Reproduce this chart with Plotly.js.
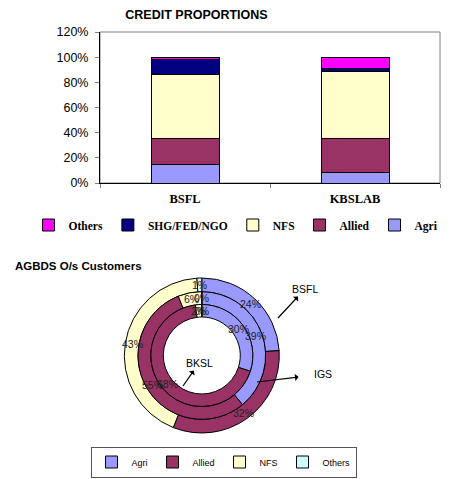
<!DOCTYPE html>
<html><head><meta charset="utf-8">
<script src="https://cdn.plot.ly/plotly-3.0.1.min.js"></script>
<style>html,body{margin:0;padding:0;background:#fff}#chart{width:458px;height:479px}</style>
</head><body><div id="chart"></div>
<script>
// ---- Bar chart data (percent of credit) ----
const barCategories = ['BSFL', 'KBSLAB'];
const barAgri = [15, 8];
const barAllied = [20, 27];
const barNFS = [51, 54];
const barSHG = [12.5, 2];
const barOthers = [1.5, 9];
const yTickVals = [0, 20, 40, 60, 80, 100, 120];
const yTickText = ['0%', '20%', '40%', '60%', '80%', '100%', '120%'];

// ---- Donut data (percent of customers) ----
const pieLabels = ['Agri', 'Allied', 'NFS', 'Others'];
const pieBSFL = [24, 32, 43, 1];   // outer ring
const pieIGS = [39, 55, 6, 0];     // middle ring
const pieBKSL = [30, 68, 2, 0];    // inner ring

const W = 458, H = 479;
const px = v => v / W, py = v => 1 - v / H;

const serif = 'Liberation Serif, Times New Roman, serif';
const sans = 'Liberation Sans, Arial, sans-serif';

function barTrace(name, vals, color) {
  return {type: 'bar', name: name, x: barCategories, y: vals, width: 0.4,
    marker: {color: color, line: {color: '#000', width: 1}}, legend: 'legend',
    hoverinfo: 'skip'};
}
const pieColors = ['#9999FF', '#993366', '#FFFFCC', '#CCFFFF'];

// donut geometry (pixel): centre and ring radii
const cx = 201.8, cy = 355.5;
const rings = [
  {name: 'BSFL', vals: pieBSFL, rOut: 77.5, rIn: 63.8},
  {name: 'IGS', vals: pieIGS, rOut: 63.8, rIn: 51},
  {name: 'BKSL', vals: pieBKSL, rOut: 51, rIn: 38.5}
];
function ringDomain(r) {
  return {x: [px(cx - r), px(cx + r)], y: [py(cy + r), py(cy - r)]};
}
function pieTrace(ring) {
  return {type: 'pie', name: ring.name, labels: pieLabels, values: ring.vals, sort: false,
    direction: 'clockwise', rotation: 0, hole: ring.rIn / ring.rOut,
    domain: ringDomain(ring.rOut),
    marker: {colors: pieColors, line: {color: '#000', width: 1}},
    textinfo: 'none',
    legend: 'legend2', showlegend: true, hoverinfo: 'skip'};
}

// percentage labels placed at the middle of each ring slice
const labelAnns = [];
rings.forEach(ring => {
  const total = ring.vals.reduce((a, b) => a + b, 0);
  let cum = 0;
  const rMid = (ring.rOut + ring.rIn) / 2;
  ring.vals.forEach(v => {
    const ang = (cum + v / 2) / total * 2 * Math.PI;
    cum += v;
    labelAnns.push({text: Math.round(v / total * 100) + '%', xref: 'paper', yref: 'paper',
      x: px(cx + rMid * Math.sin(ang)), y: py(cy - rMid * Math.cos(ang)),
      xanchor: 'center', yanchor: 'middle', showarrow: false,
      font: {family: sans, size: 10.5, color: '#222'}});
  });
});

const data = [
  barTrace('Agri', barAgri, '#9999FF'),
  barTrace('Allied', barAllied, '#993366'),
  barTrace('NFS', barNFS, '#FFFFCC'),
  barTrace('SHG/FED/NGO', barSHG, '#000080'),
  barTrace('Others', barOthers, '#FF00FF')
].concat(rings.map(pieTrace));

const layout = {
  width: W, height: H,
  margin: {l: 0, r: 0, t: 0, b: 0},
  paper_bgcolor: '#fff', plot_bgcolor: '#fff',
  barmode: 'stack',
  showlegend: true,
  title: {text: '<b>CREDIT PROPORTIONS</b>', x: px(196.5), xanchor: 'center',
    y: py(14.7), yanchor: 'middle', font: {family: sans, size: 12.5, color: '#000'}},
  xaxis: {domain: [px(100), px(440)], type: 'category', showgrid: false,
    showline: true, linecolor: '#000', linewidth: 1, ticks: 'outside',
    tickson: 'boundaries', ticklen: 4, tickcolor: '#808080',
    ticklabelstandoff: 4,
    tickfont: {family: serif, size: 12.5, color: '#000', weight: 'bold'}},
  yaxis: {domain: [py(183), py(32)], range: [0, 120], tickmode: 'array',
    tickvals: yTickVals, ticktext: yTickText, showgrid: false, zeroline: false,
    showline: true, linecolor: '#000', linewidth: 1, ticks: 'outside', ticklen: 4,
    tickcolor: '#808080', ticklabelstandoff: 4,
    tickfont: {family: sans, size: 12.5, color: '#000'}},
  shapes: [{type: 'rect', xref: 'x domain', yref: 'y domain', x0: 0, x1: 1, y0: 0, y1: 1,
    line: {color: '#808080', width: 1}, layer: 'below'}],
  legend: {orientation: 'h', traceorder: 'reversed', x: px(236), xanchor: 'center',
    y: py(225), yanchor: 'middle', bgcolor: 'rgba(0,0,0,0)',
    font: {family: serif, size: 11.5, color: '#000', weight: 'bold'}, itemwidth: 30},
  legend2: {orientation: 'h', x: px(223.5), xanchor: 'center', y: py(462), yanchor: 'middle',
    bgcolor: '#fff', bordercolor: '#555', borderwidth: 1,
    font: {family: sans, size: 9, color: '#000'}, itemwidth: 30},
  annotations: [
    {text: '<b>AGBDS O/s Customers</b>', xref: 'paper', yref: 'paper', x: px(13), xanchor: 'left',
      y: py(266), yanchor: 'middle', showarrow: false,
      font: {family: sans, size: 11.5, color: '#000'}},
    {text: 'BSFL', xref: 'paper', yref: 'paper', x: px(278), y: py(318), ax: 27, ay: -29,
      showarrow: true, arrowside: 'start', arrowhead: 2, arrowsize: 1, arrowwidth: 1.2,
      arrowcolor: '#000', font: {family: sans, size: 10.5, color: '#000'}},
    {text: 'IGS', xref: 'paper', yref: 'paper', x: px(257), y: py(382), ax: 66, ay: -8,
      showarrow: true, arrowside: 'start', arrowhead: 2, arrowsize: 1, arrowwidth: 1.2,
      startstandoff: 14, arrowcolor: '#000', font: {family: sans, size: 10.5, color: '#000'}},
    {text: 'BKSL', xref: 'paper', yref: 'paper', x: px(183), y: py(386), ax: 16, ay: -23,
      showarrow: true, arrowside: 'start', arrowhead: 2, arrowsize: 1, arrowwidth: 1.2,
      arrowcolor: '#000', font: {family: sans, size: 10.5, color: '#000'}}
  ].concat(labelAnns)
};

Plotly.newPlot('chart', data, layout, {displayModeBar: false, staticPlot: true});
</script></body></html>
